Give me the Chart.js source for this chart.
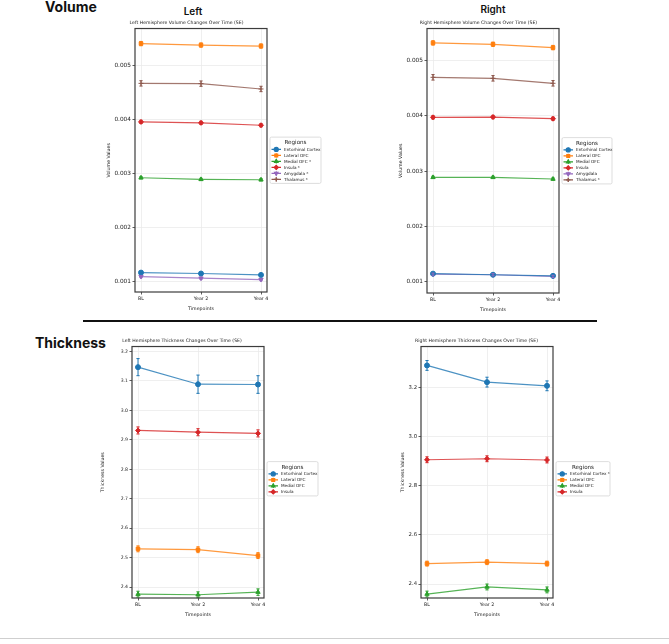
<!DOCTYPE html>
<html>
<head>
<meta charset="utf-8">
<script src="https://cdn.jsdelivr.net/npm/chart.js@4.4.1/dist/chart.umd.min.js"></script>
<style>
  body { margin: 0; background: #fff; width: 669px; height: 644px; position: relative; overflow: hidden; }
  canvas { position: absolute; }
  .head { position: absolute; font-family: Inter, 'DejaVu Sans', sans-serif; color: #111; line-height: 1; white-space: nowrap; }
  .big { font-size: 14px; font-weight: 700; }
  .side { font-size: 10px; font-weight: 600; transform: translateX(-50%); }
  .rule { position: absolute; background: #111; }
</style>
</head>
<body>
<div class="head big" style="left:45px; top:0px;">Volume</div>
<div class="head side" style="left:193px; top:6px;">Left</div>
<div class="head side" style="left:493px; top:4px;">Right</div>
<div class="head big" style="left:35px; top:336px;">Thickness</div>
<div class="rule" style="left:83px; top:320px; width:514px; height:2px;"></div>
<div class="rule" style="left:0; top:638px; width:669px; height:1px; background:#cfcfcf;"></div>

<canvas id="lv" width="224" height="294" style="left:106px; top:18px;"></canvas>
<canvas id="rv" width="224" height="295" style="left:398px; top:18px;"></canvas>
<canvas id="lt" width="230" height="282" style="left:100px; top:336px;"></canvas>
<canvas id="rt" width="216" height="282" style="left:400px; top:336px;"></canvas>

<script>
// timepoints and regions
const timepoints = ['BL', 'Year 2', 'Year 4'];
const leftVolumeLabels = ['Entorhinal Cortex', 'Lateral OFC', 'Medial OFC *', 'Insula *', 'Amygdala *', 'Thalamus *'];
const rightVolumeLabels = ['Entorhinal Cortex', 'Lateral OFC', 'Medial OFC', 'Insula', 'Amygdala', 'Thalamus *'];
const leftThicknessLabels = ['Entorhinal Cortex', 'Lateral OFC', 'Medial OFC', 'Insula'];
const rightThicknessLabels = ['Entorhinal Cortex *', 'Lateral OFC', 'Medial OFC', 'Insula'];

// left hemisphere volume (mean per timepoint, one row per region)
const leftVolumeMeans = [
    [0.00116, 0.001143, 0.001117],
    [0.00541, 0.005383, 0.005365],
    [0.00292, 0.00289, 0.002883],
    [0.003957, 0.003939, 0.003895],
    [0.001087, 0.001056, 0.001031],
    [0.004672, 0.004667, 0.004568]
];
const leftVolumeSE = [
    [0.00002, 0.00002, 0.00002],
    [0.00004, 0.00004, 0.00004],
    [0.00002, 0.00002, 0.00002],
    [0.00003, 0.00003, 0.00003],
    [0.00002, 0.00002, 0.00002],
    [0.00005, 0.00005, 0.00005]
];

// right hemisphere volume
const rightVolumeMeans = [
    [0.00115, 0.00113, 0.00111],
    [0.00532, 0.005295, 0.005235],
    [0.00289, 0.00289, 0.00286],
    [0.003975, 0.00398, 0.00395],
    [0.00114, 0.00113, 0.0011],
    [0.004698, 0.00468, 0.00459]
];
const rightVolumeSE = [
    [0.00002, 0.00002, 0.00002],
    [0.00004, 0.00004, 0.00004],
    [0.00002, 0.00002, 0.00002],
    [0.00003, 0.00003, 0.00003],
    [0.00002, 0.00002, 0.00002],
    [0.00005, 0.00005, 0.00005]
];

// left hemisphere thickness
const leftThicknessMeans = [
    [3.147, 3.089, 3.088],
    [2.530, 2.527, 2.507],
    [2.376, 2.374, 2.383],
    [2.932, 2.926, 2.922]
];
const leftThicknessSE = [
    [0.029, 0.031, 0.030],
    [0.010, 0.010, 0.010],
    [0.010, 0.010, 0.011],
    [0.012, 0.012, 0.012]
];

// right hemisphere thickness
const rightThicknessMeans = [
    [3.290, 3.222, 3.207],
    [2.483, 2.489, 2.483],
    [2.359, 2.388, 2.376],
    [2.906, 2.910, 2.905]
];
const rightThicknessSE = [
    [0.020, 0.020, 0.020],
    [0.010, 0.010, 0.010],
    [0.012, 0.012, 0.012],
    [0.012, 0.012, 0.012]
];

// tick labels
const volumeTicks = [0.001, 0.002, 0.003, 0.004, 0.005];
const leftThicknessTicks = [2.4, 2.5, 2.6, 2.7, 2.8, 2.9, 3.0, 3.1, 3.2];
const rightThicknessTicks = [2.4, 2.6, 2.8, 3.0, 3.2];

// matplotlib tab10 style
const colors = ['#1f77b4', '#ff7f0e', '#2ca02c', '#d62728', '#9467bd', '#8c564b'];
const markers = [
    { style: 'circle', rot: 0 },
    { style: 'rect', rot: 0 },
    { style: 'triangle', rot: 0 },
    { style: 'rectRot', rot: 0 },
    { style: 'triangle', rot: 180 },
    { style: 'cross', rot: 0 }
];
const FONT = "'DejaVu Sans', sans-serif";

function fade(hex, a) {
    const n = parseInt(hex.slice(1), 16);
    return `rgba(${n >> 16}, ${(n >> 8) & 255}, ${n & 255}, ${a})`;
}

// error bars drawn through the chart's own scales
const errorBars = {
    id: 'errorBars',
    afterDatasetsDraw(chart) {
        const ctx = chart.ctx;
        const ys = chart.scales.y;
        chart.data.datasets.forEach((ds, i) => {
            const meta = chart.getDatasetMeta(i);
            ctx.save();
            ctx.strokeStyle = ds.pointBackgroundColor;
            ctx.lineWidth = 1;
            meta.data.forEach((pt, j) => {
                const v = ds.data[j].y, e = ds.se[j];
                const y1 = ys.getPixelForValue(v - e), y2 = ys.getPixelForValue(v + e);
                ctx.beginPath();
                ctx.moveTo(pt.x, y1); ctx.lineTo(pt.x, y2);
                ctx.moveTo(pt.x - 1.6, y1); ctx.lineTo(pt.x + 1.6, y1);
                ctx.moveTo(pt.x - 1.6, y2); ctx.lineTo(pt.x + 1.6, y2);
                ctx.stroke();
            });
            ctx.restore();
        });
    }
};

// axes frame
const frame = {
    id: 'frame',
    afterDraw(chart) {
        const a = chart.chartArea, ctx = chart.ctx;
        ctx.save();
        ctx.strokeStyle = '#3c3c3c';
        ctx.lineWidth = 1.2;
        ctx.strokeRect(a.left, a.top, a.right - a.left, a.bottom - a.top);
        ctx.restore();
    }
};

// matplotlib-like boxed legend to the right of the axes
const boxLegend = {
    id: 'boxLegend',
    afterDraw(chart, args, opts) {
        const ctx = chart.ctx, a = chart.chartArea;
        const n = chart.data.datasets.length;
        const h = 12.3 + (n - 1) * 6 + 4;
        const w = opts.width;
        const x = a.right + 3;
        const y = (a.top + a.bottom) / 2 - h / 2 + (opts.shift || 0);
        ctx.save();
        ctx.fillStyle = 'rgba(255,255,255,0.85)';
        ctx.strokeStyle = '#d4d4d4';
        ctx.lineWidth = 0.8;
        ctx.beginPath();
        ctx.roundRect(x, y, w, h, 1.5);
        ctx.fill(); ctx.stroke();
        ctx.fillStyle = '#222';
        ctx.textAlign = 'center';
        ctx.textBaseline = 'middle';
        ctx.font = `5.6px ${FONT}`;
        ctx.fillText('Regions', x + w / 2, y + 5.6);
        ctx.font = `4.2px ${FONT}`;
        ctx.textAlign = 'left';
        chart.data.datasets.forEach((ds, i) => {
            const cy = y + 12.3 + i * 6;
            const c = ds.pointBackgroundColor;
            ctx.strokeStyle = c;
            ctx.lineWidth = 1.1;
            ctx.beginPath();
            ctx.moveTo(x + 1.5, cy); ctx.lineTo(x + 11, cy);
            ctx.moveTo(x + 6.25, cy - 2.2); ctx.lineTo(x + 6.25, cy + 2.2);
            ctx.stroke();
            ctx.fillStyle = c;
            Chart.helpers.drawPoint(ctx, { pointStyle: ds.pointStyle, radius: 2.1, rotation: ds.pointRotation, borderWidth: 1 }, x + 6.25, cy);
            ctx.fillStyle = '#222';
            ctx.fillText(ds.label, x + 14, cy + 0.3);
        });
        ctx.restore();
    }
};

function makeChart(id, cfg) {
    const datasets = cfg.means.map((row, i) => ({
        label: cfg.labels[i],
        data: row.map((v, j) => ({ x: j, y: v })),
        se: cfg.se[i],
        borderColor: fade(colors[i], 0.8),
        borderWidth: 1.2,
        pointBackgroundColor: colors[i],
        pointBorderColor: colors[i],
        pointBorderWidth: 1,
        pointStyle: markers[i].style,
        pointRotation: markers[i].rot,
        pointRadius: 2.5,
        tension: 0
    }));
    return new Chart(document.getElementById(id), {
        type: 'line',
        data: { datasets },
        plugins: [errorBars, frame, boxLegend],
        options: {
            responsive: false,
            animation: false,
            events: [],
            layout: { padding: { left: 0, right: cfg.padRight, top: 0, bottom: 0 } },
            plugins: {
                legend: { display: false },
                tooltip: { enabled: false },
                title: {
                    display: true, text: cfg.title, color: '#222',
                    font: { family: FONT, size: 4.6, weight: 'normal' },
                    padding: { top: 2, bottom: 3 }
                },
                boxLegend: { width: cfg.legendWidth, shift: cfg.legendShift }
            },
            scales: {
                x: {
                    type: 'linear', min: -0.1, max: 2.1,
                    afterBuildTicks: s => { s.ticks = timepoints.map((_, i) => ({ value: i })); },
                    afterFit: s => { s.height = 20; },
                    ticks: { callback: v => timepoints[v], color: '#222', font: { family: FONT, size: 4.7 }, padding: 1, maxRotation: 0, autoSkip: false },
                    grid: { color: '#ebebeb', lineWidth: 0.8, tickColor: '#333', tickLength: 2.5 },
                    border: { display: false },
                    title: { display: true, text: 'Timepoints', color: '#222', font: { family: FONT, size: 4.7 }, padding: { top: 1, bottom: 0 } }
                },
                y: {
                    type: 'linear', min: cfg.yMin, max: cfg.yMax,
                    afterBuildTicks: s => { s.ticks = cfg.ticks.map(v => ({ value: v })); },
                    afterFit: s => { s.width = cfg.yWidth; },
                    ticks: { callback: v => v.toFixed(cfg.digits), color: '#222', font: { family: FONT, size: cfg.tickSize }, padding: 1.5 },
                    grid: { color: '#ebebeb', lineWidth: 0.8, tickColor: '#333', tickLength: 2.5 },
                    border: { display: false },
                    title: { display: true, text: cfg.yTitle, color: '#222', font: { family: FONT, size: 4.7 }, padding: { top: 0, bottom: 1 } }
                }
            }
        }
    });
}

makeChart('lv', {
    title: 'Left Hemisphere Volume Changes Over Time (SE)', yTitle: 'Volume Values',
    labels: leftVolumeLabels, means: leftVolumeMeans, se: leftVolumeSE,
    yMin: 0.0008, yMax: 0.00569, ticks: volumeTicks, digits: 3, tickSize: 5.8,
    yWidth: 29, padRight: 63, legendWidth: 51, legendShift: 0
});
makeChart('rv', {
    title: 'Right Hemisphere Volume Changes Over Time (SE)', yTitle: 'Volume Values',
    labels: rightVolumeLabels, means: rightVolumeMeans, se: rightVolumeSE,
    yMin: 0.0008, yMax: 0.00558, ticks: volumeTicks, digits: 3, tickSize: 5.8,
    yWidth: 29, padRight: 63, legendWidth: 50, legendShift: 0
});
makeChart('lt', {
    title: 'Left Hemisphere Thickness Changes Over Time (SE)', yTitle: 'Thickness Values',
    labels: leftThicknessLabels, means: leftThicknessMeans, se: leftThicknessSE,
    yMin: 2.363, yMax: 3.217, ticks: leftThicknessTicks, digits: 1, tickSize: 4.6,
    yWidth: 32, padRight: 66, legendWidth: 51, legendShift: 6.5
});
makeChart('rt', {
    title: 'Right Hemisphere Thickness Changes Over Time (SE)', yTitle: 'Thickness Values',
    labels: rightThicknessLabels, means: rightThicknessMeans, se: rightThicknessSE,
    yMin: 2.343, yMax: 3.367, ticks: rightThicknessTicks, digits: 1, tickSize: 5.3,
    yWidth: 21, padRight: 63, legendWidth: 54, legendShift: 6.5
});
</script>
</body>
</html>
